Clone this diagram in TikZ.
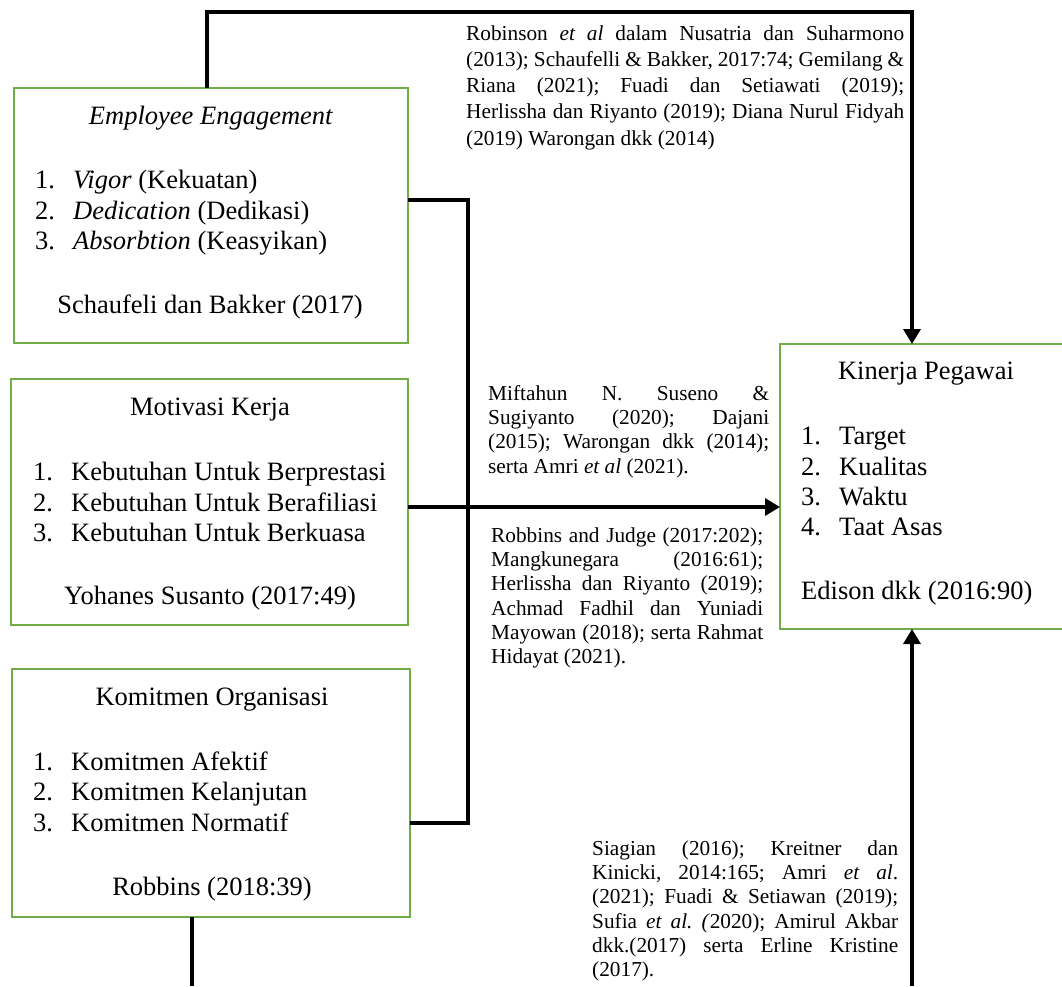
\documentclass[tikz,border=0pt]{standalone}
\usepackage{fontspec}
\setmainfont{Liberation Serif}
\usetikzlibrary{arrows.meta}
\definecolor{boxgreen}{HTML}{70AD47}
\frenchspacing

\begin{document}
\begin{tikzpicture}[x=1pt,y=-1pt,
    varbox/.style={draw=boxgreen, line width=2pt, anchor=north west, inner sep=0pt, outer sep=0pt},
    boxtext/.style={font=\fontsize{26.5}{30}\selectfont, inner sep=0pt},
    cite/.style={align=justify, inner sep=0pt, anchor=north west},
    link/.style={line width=3.4pt},
    tip/.style={-{Triangle[length=15pt,width=17pt]}}]
    \useasboundingbox (0,0) rectangle (1062,986);

    % Boxes:
    \node [varbox, minimum width=394pt, minimum height=255pt] (ee) at (14,88) {};
    \node [varbox, minimum width=397pt, minimum height=246pt] (mk) at (11,379) {};
    \node [varbox, minimum width=398pt, minimum height=248pt] (ko) at (12,669) {};
    \node [varbox, minimum width=300pt, minimum height=285pt] (kp) at (780,344) {};

    % Box texts:
    \node [boxtext, anchor=base] (eetitle) at (211,124) {\textit{Employee Engagement}};
    \foreach \yy/\txt [count=\n] in {188/{\textit{Vigor} (Kekuatan)},219/{\textit{Dedication} (Dedikasi)},249/{\textit{Absorbtion} (Keasyikan)}}{%
        \node [boxtext, anchor=base west] (eeno\n) at (35,\yy) {\n.};
        \node [boxtext, anchor=base west] (eeitem\n) at (73,\yy) {\txt};
    }
    \node [boxtext, anchor=base] (eeref) at (210,313) {Schaufeli dan Bakker (2017)};

    \node [boxtext, anchor=base] (mktitle) at (210,415) {Motivasi Kerja};
    \foreach \yy/\txt [count=\n] in {480/{Kebutuhan Untuk Berprestasi},511/{Kebutuhan Untuk Berafiliasi},541/{Kebutuhan Untuk Berkuasa}}{%
        \node [boxtext, anchor=base west] (mkno\n) at (33,\yy) {\n.};
        \node [boxtext, anchor=base west] (mkitem\n) at (71,\yy) {\txt};
    }
    \node [boxtext, anchor=base] (mkref) at (210,604) {Yohanes Susanto (2017:49)};

    \node [boxtext, anchor=base] (kotitle) at (212,705) {Komitmen Organisasi};
    \foreach \yy/\txt [count=\n] in {770/{Komitmen Afektif},800/{Komitmen Kelanjutan},831/{Komitmen Normatif}}{%
        \node [boxtext, anchor=base west] (kono\n) at (33,\yy) {\n.};
        \node [boxtext, anchor=base west] (koitem\n) at (71,\yy) {\txt};
    }
    \node [boxtext, anchor=base] (koref) at (212,895) {Robbins (2018:39)};

    \node [boxtext, anchor=base] (kptitle) at (926,379) {Kinerja Pegawai};
    \foreach \yy/\txt [count=\n] in {444/Target,475/Kualitas,505/Waktu,535/{Taat Asas}}{%
        \node [boxtext, anchor=base west] (kpno\n) at (801,\yy) {\n.};
        \node [boxtext, anchor=base west] (kpitem\n) at (839,\yy) {\txt};
    }
    \node [boxtext, anchor=base west] (kpref) at (801,599) {Edison dkk (2016:90)};

    % Connectors:
    \coordinate (eeup) at (207,12);
    \coordinate (top) at (912,12);
    \coordinate (trunktop) at (468,200);
    \coordinate (trunkbot) at (468,823);
    \coordinate (mid) at (468,507);
    \coordinate (botleft) at (192,986);
    \coordinate (botright) at (912,986);
    \draw [link, tip] (ee.north -| eeup) -- (eeup) -- (top) -- (kp.north -| top);
    \draw [link] (ee.east |- trunktop) -- (trunktop) -- (trunkbot) -- (ko.east |- trunkbot);
    \draw [link, tip] (mk.east |- mid) -- (kp.west |- mid);
    \draw [link] (ko.south -| botleft) -- (botleft);
    \draw [link, tip] (botright) -- (kp.south -| botright);

    % Citations:
    \begin{scope}[font=\fontsize{21.3}{24.3}\selectfont]
    \node [cite, text width=438pt, font=\fontsize{21.3}{26.2}\selectfont] (citeee) at (466,21.7) {\strut Robinson \textit{et al} dalam Nusatria dan Suharmono\linebreak (2013); Schaufelli \& Bakker, 2017:74; Gemilang \&\linebreak Riana (2021); Fuadi dan Setiawati (2019);\linebreak Herlissha dan Riyanto (2019); Diana Nurul Fidyah\linebreak (2019) Warongan dkk (2014)};
    \node [cite, text width=281pt] (citemk) at (488,383) {\strut Miftahun N. Suseno \&\linebreak Sugiyanto (2020); Dajani\linebreak (2015); Warongan dkk (2014);\linebreak serta Amri \textit{et al} (2021).};
    \node [cite, text width=272pt] (citeko) at (491,525) {\strut Robbins and Judge (2017:202);\linebreak Mangkunegara (2016:61);\linebreak Herlissha dan Riyanto (2019);\linebreak Achmad Fadhil dan Yuniadi\linebreak Mayowan (2018); serta Rahmat\linebreak Hidayat (2021).};
    \node [cite, text width=306pt] (citekp) at (592,838) {\strut Siagian (2016); Kreitner dan\linebreak Kinicki, 2014:165; Amri \textit{et al}.\linebreak (2021); Fuadi \& Setiawan (2019);\linebreak Sufia \textit{et al. (}2020); Amirul Akbar\linebreak dkk.(2017) serta Erline Kristine\linebreak (2017).};
    \end{scope}
\end{tikzpicture}
\end{document}
